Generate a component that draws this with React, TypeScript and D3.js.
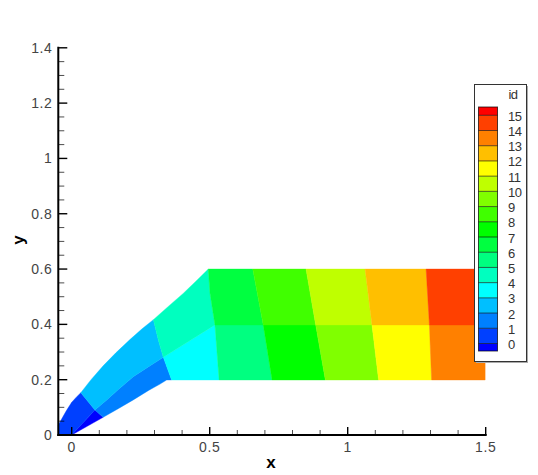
import React from "react";
import * as d3 from "d3";

const W = 538, H = 475;
const xTicks = [0, 0.5, 1, 1.5];
const xTickLabels = ["0", "0.5", "1", "1.5"];
const xMinorTicks = [0.1, 0.2, 0.3, 0.4, 0.6, 0.7, 0.8, 0.9, 1.1, 1.2, 1.3, 1.4];
const yTicks = [0, 0.2, 0.4, 0.6, 0.8, 1, 1.2, 1.4];
const yTickLabels = ["0", "0.2", "0.4", "0.6", "0.8", "1", "1.2", "1.4"];
const yMinorTicks = [0.05, 0.1, 0.15, 0.25, 0.3, 0.35, 0.45, 0.5, 0.55, 0.65, 0.7, 0.75, 0.85, 0.9, 0.95, 1.05, 1.1, 1.15, 1.25, 1.3, 1.35];
const levelColors = ["#0000ff", "#0040ff", "#0080ff", "#00bfff", "#00ffff", "#00ffbf", "#00ff80", "#00ff40", "#00ff00", "#40ff00", "#80ff00", "#bfff00", "#ffff00", "#ffbf00", "#ff8000", "#ff4000", "#ff0000"];
const legendLevels = d3.range(0, 16);

const cell0 = [[0, 0], [0.084, 0.09], [0.114, 0.064]];
const cell1 = [[-0.0486, 0], [-0.0486, 0.036], [-0.034, 0.062], [-0.018, 0.09], [0, 0.118], [0.016, 0.136], [0.033, 0.153], [0.084, 0.09], [0, 0]];
const cell2 = [[0.084, 0.09], [0.114, 0.064], [0.17, 0.096], [0.223, 0.127], [0.28, 0.162], [0.32, 0.184], [0.344, 0.199], [0.362, 0.199], [0.332, 0.281], [0.28, 0.248], [0.223, 0.211], [0.17, 0.165], [0.127, 0.127]];
const cell3 = [[0.033, 0.153], [0.07, 0.2], [0.114, 0.25], [0.16, 0.297], [0.211, 0.345], [0.255, 0.384], [0.296, 0.417], [0.314, 0.343], [0.332, 0.281], [0.28, 0.248], [0.223, 0.211], [0.17, 0.165], [0.127, 0.127], [0.084, 0.09]];
const cell4 = [[0.332, 0.281], [0.362, 0.199], [0.534, 0.199], [0.519, 0.398]];
const cell5 = [[0.296, 0.417], [0.35, 0.465], [0.404, 0.512], [0.45, 0.556], [0.495, 0.6], [0.501, 0.513], [0.519, 0.398], [0.332, 0.281], [0.314, 0.343]];
const cell6 = [[0.534, 0.199], [0.519, 0.398], [0.694, 0.398], [0.726, 0.199]];
const cell7 = [[0.495, 0.6], [0.656, 0.6], [0.694, 0.398], [0.519, 0.398], [0.501, 0.513]];
const cell8 = [[0.694, 0.398], [0.884, 0.398], [0.919, 0.199], [0.726, 0.199]];
const cell9 = [[0.656, 0.6], [0.849, 0.6], [0.884, 0.398], [0.694, 0.398]];
const cell10 = [[0.884, 0.398], [1.088, 0.398], [1.112, 0.199], [0.919, 0.199]];
const cell11 = [[0.849, 0.6], [1.063, 0.6], [1.088, 0.398], [0.884, 0.398]];
const cell12 = [[1.088, 0.398], [1.296, 0.398], [1.304, 0.199], [1.112, 0.199]];
const cell13 = [[1.063, 0.6], [1.284, 0.6], [1.296, 0.398], [1.088, 0.398]];
const cell14 = [[1.296, 0.398], [1.498, 0.398], [1.498, 0.199], [1.304, 0.199]];
const cell15 = [[1.284, 0.6], [1.498, 0.6], [1.498, 0.398], [1.296, 0.398]];
const cells = [cell0, cell1, cell2, cell3, cell4, cell5, cell6, cell7, cell8, cell9, cell10, cell11, cell12, cell13, cell14, cell15];

const FONT = "'Liberation Sans', Arial, sans-serif";

export default function App() {
  const x = d3.scaleLinear().domain([0, 1.5]).range([71.7, 485.7]);
  const y = d3.scaleLinear().domain([0, 1.4]).range([435, 47.8]);
  const xLeft = x(-0.0486);
  const line = d3.line<number[]>().x((d) => x(d[0])).y((d) => y(d[1]));
  const legendY = d3.scaleLinear().domain([0, 15]).range([343.5, 115.3]);
  const legendEdges = [351, ...legendLevels.map((l) => legendY(l)), 107];
  return (
    <svg width={W} height={H} style={{ position: "absolute", left: 0, top: 0, background: "#fff" }}>
      {cells.map((c, i) => (
        <path key={i} d={line(c)! + "Z"} fill={levelColors[i]} stroke={levelColors[i]} strokeWidth={0.4} />
      ))}
      <g stroke="#000">
        <line x1={xLeft - 1} x2={x(1.5) + 1} y1={y(0)} y2={y(0)} strokeWidth={2} />
        <line x1={xLeft} x2={xLeft} y1={y(0) + 1} y2={y(1.4) - 1} strokeWidth={2} />
        {xTicks.map((t) => <line key={t} x1={x(t)} x2={x(t)} y1={y(0)} y2={y(0) - 8} strokeWidth={1.4} />)}
        {xMinorTicks.map((t) => <line key={t} x1={x(t)} x2={x(t)} y1={y(0)} y2={y(0) - 5} strokeWidth={1} strokeOpacity={0.7} />)}
        {yTicks.map((t) => <line key={t} x1={xLeft} x2={xLeft + 9} y1={y(t)} y2={y(t)} strokeWidth={1.4} />)}
        {yMinorTicks.map((t) => <line key={t} x1={xLeft} x2={xLeft + 6} y1={y(t)} y2={y(t)} strokeWidth={1} strokeOpacity={0.7} />)}
      </g>
      <g fontFamily={FONT} fontSize={14} letterSpacing={0.6} fill="#444">
        {xTicks.map((t, i) => <text key={t} x={x(t)} y={451.5} textAnchor="middle">{xTickLabels[i]}</text>)}
        {yTicks.map((t, i) => <text key={t} x={52.5} y={y(t) + 5} textAnchor="end">{yTickLabels[i]}</text>)}
      </g>
      <text x={271} y={468} textAnchor="middle" fontFamily={FONT} fontWeight="bold" fontSize={17} fill="#000">x</text>
      <text transform="translate(24,240) rotate(-90)" textAnchor="middle" fontFamily={FONT} fontWeight="bold" fontSize={17} fill="#000">y</text>
      <rect x={476} y={86} width={52} height={277} fill="#aaa" />
      <rect x={474.5} y={84.5} width={52} height={277} fill="#fff" stroke="#333" />
      {levelColors.map((c, i) => (
        <rect key={i} x={478.5} width={19} y={legendEdges[i + 1]} height={legendEdges[i] - legendEdges[i + 1]} fill={c} />
      ))}
      {legendLevels.map((l) => <line key={l} x1={478.5} x2={497.5} y1={legendY(l)} y2={legendY(l)} stroke="#000" strokeOpacity={0.6} />)}
      <rect x={478.5} y={107} width={19} height={244} fill="none" stroke="#000" strokeOpacity={0.7} />
      <g fontFamily={FONT} fontSize={13} letterSpacing={-0.5} fill="#333">
        <text x={513} y={99} textAnchor="middle">id</text>
        {legendLevels.map((l) => <text key={l} x={508} y={legendY(l) + 5.5}>{l}</text>)}
      </g>
    </svg>
  );
}
